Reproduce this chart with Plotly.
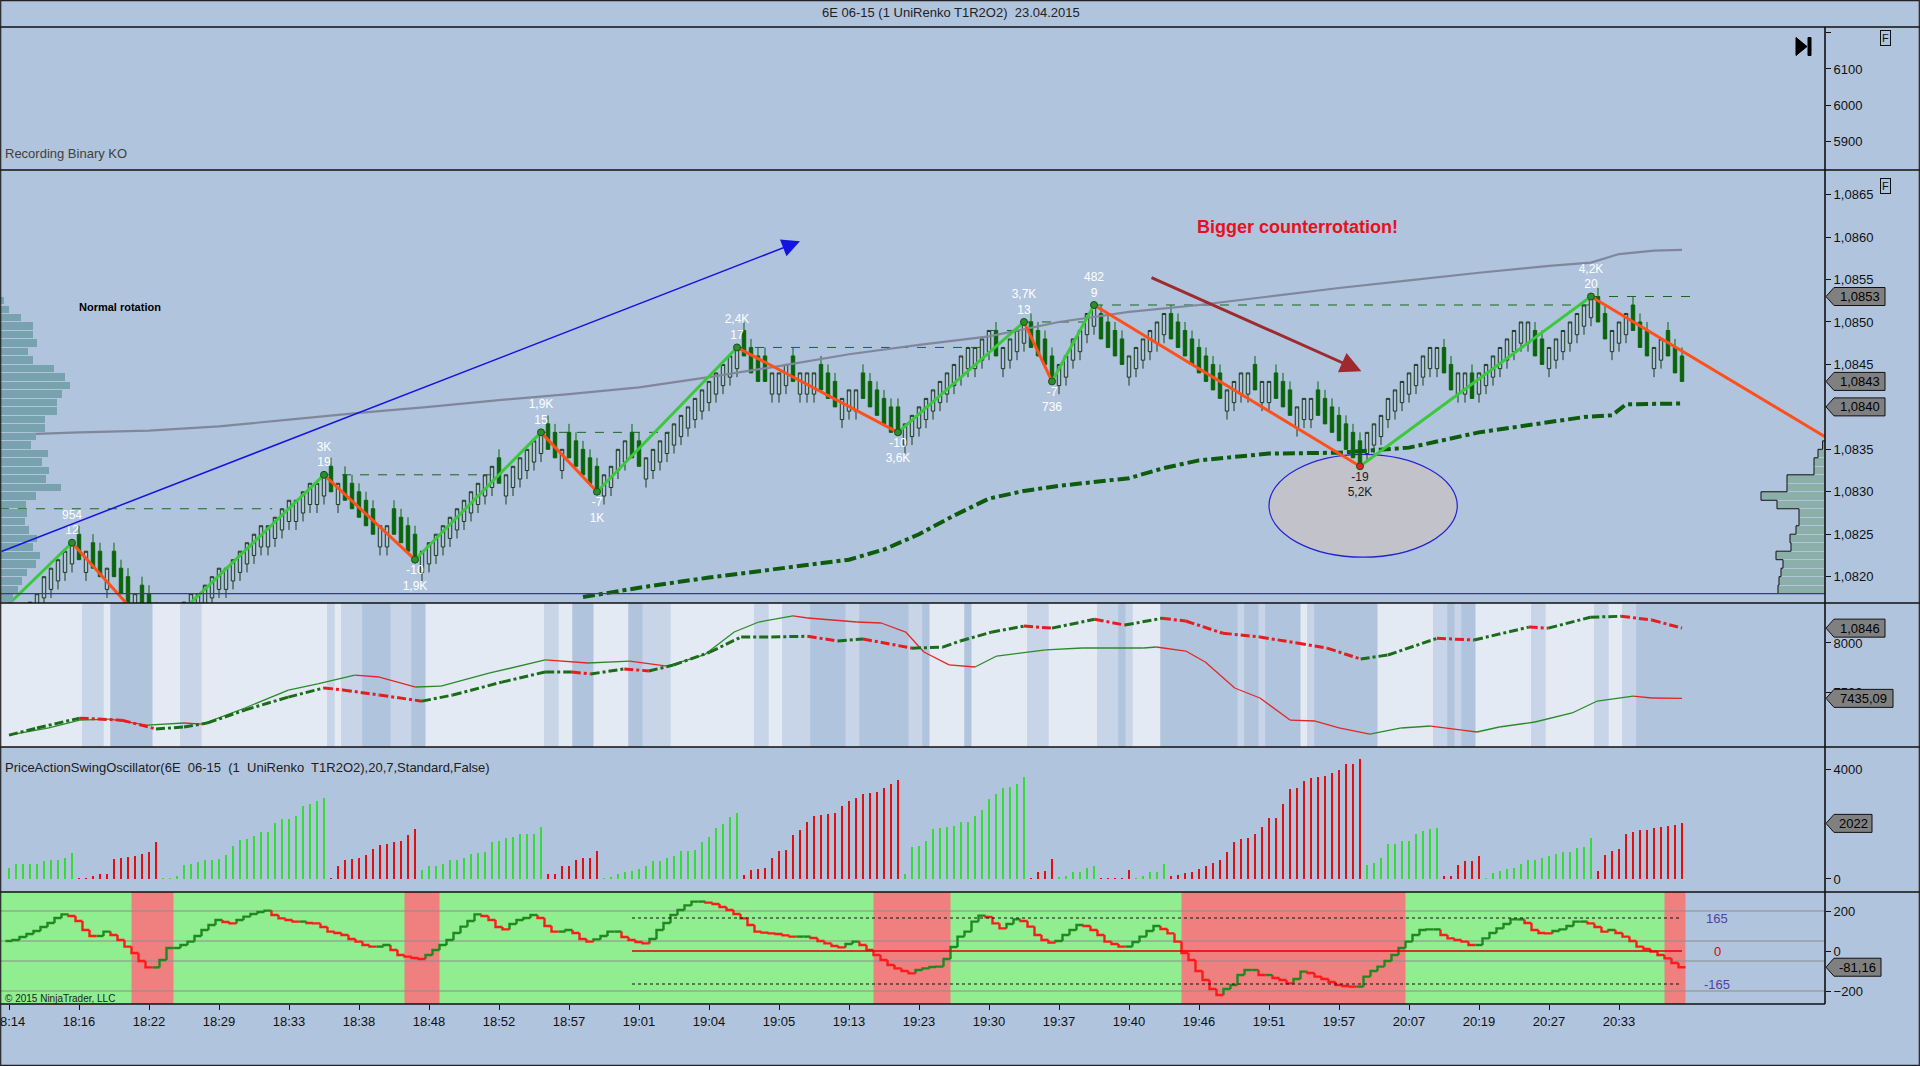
import plotly.graph_objects as go

FONT = "Arial, Liberation Sans, sans-serif"

# ======================= DATA =======================
CHART_TITLE = "6E 06-15 (1 UniRenko T1R2O2)  23.04.2015"
TOP_PANEL_TEXT = "Recording Binary KO"
OSC_TITLE = "PriceActionSwingOscillator(6E  06-15  (1  UniRenko  T1R2O2),20,7,Standard,False)"
COPYRIGHT = "© 2015 NinjaTrader, LLC"

TIME_TICK_BARS = [0, 10, 20, 30, 40, 50, 60, 70, 80, 90, 100, 110,
                  120, 130, 140, 150, 160, 170, 180, 190, 200, 210, 220, 230]
TIME_LABELS = ["18:14", "18:16", "18:22", "18:29", "18:33", "18:38", "18:48", "18:52",
               "18:57", "19:01", "19:04", "19:05", "19:13", "19:23", "19:30", "19:37",
               "19:40", "19:46", "19:51", "19:57", "20:07", "20:19", "20:27", "20:33"]

TICK_SIZE = 0.0001
PRICE_BASE = 1.0800
# renko close of every bar, in ticks above 1,0800
CLOSE_TICKS = [
    14, 15, 16, 17, 18, 20, 21, 22, 23, 24,
    22, 23, 21, 20, 21, 20, 18, 17, 18, 16, 15, 13,
    14, 15, 16, 17, 18, 18, 19, 20, 21, 21, 22, 23, 24, 25, 26, 26, 27, 28, 29, 29, 30, 31, 31, 32,
    30, 31, 29, 28, 27, 26, 25, 26, 26, 25, 24, 23, 22,
    23, 24, 25, 26, 27, 28, 29, 30, 31, 32, 33, 31, 32, 33, 34, 35, 36, 37,
    35, 34, 35, 34, 33, 32, 31, 30,
    32, 33, 35, 36, 34, 33, 34, 35, 36, 37, 38, 39, 40, 41, 42, 43, 44, 45, 46, 47,
    46, 44, 43, 43, 44, 44, 45, 43, 44, 44, 44, 42, 41, 40, 41, 42, 42, 41, 40, 39, 38, 37, 37,
    38, 39, 40, 41, 42, 43, 44, 45, 46, 47, 47, 48, 49, 46, 47, 48, 49, 50,
    47, 46, 45, 43,
    45, 46, 48, 49, 51, 52,
    48, 47, 46, 45, 46, 47, 48, 49, 50, 51, 48, 47, 46, 45, 44, 43, 42, 41, 42, 43, 44, 44, 42,
    43, 43, 41, 40, 39, 40, 41, 41, 39, 38, 37, 36, 35, 34, 33,
    37, 38, 39, 41, 42, 43, 44, 45, 46, 47, 47, 44, 42, 44, 44, 41, 44, 45, 46, 47, 48, 49, 50,
    50, 46, 45, 47, 48, 49, 50, 51, 52, 53,
    50, 48, 49, 50, 51, 49, 47, 46, 47, 48, 46, 44, 43]

UPPER_BAND_BARS = [0, 10, 20, 30, 40, 50, 60, 70, 80, 90, 100, 110, 120, 130, 140, 150,
                   160, 170, 180, 190, 200, 210, 220, 226, 230, 235, 239]
UPPER_BAND = [1.08367, 1.08370, 1.08372, 1.08377, 1.08385, 1.08393, 1.08400, 1.08408,
              1.08415, 1.08423, 1.08435, 1.08448, 1.08462, 1.08473, 1.08483, 1.08500,
              1.08512, 1.08520, 1.08530, 1.08540, 1.08549, 1.08558, 1.08566, 1.08570,
              1.08580, 1.08584, 1.08585]

LOWER_BAND_BARS = [82, 90, 100, 110, 120, 125, 130, 135, 140, 145, 150, 160, 165, 170,
                   180, 190, 200, 210, 220, 225, 229, 231, 239]
LOWER_BAND = [1.08176, 1.08187, 1.08199, 1.08210, 1.08220, 1.08232, 1.08250, 1.08272,
              1.08292, 1.08301, 1.08307, 1.08316, 1.08328, 1.08337, 1.08345, 1.08346,
              1.08352, 1.08370, 1.08382, 1.08388, 1.08390, 1.08403, 1.08404]

ZIGZAG_BARS = [-6, 9, 21, 45, 58, 76, 84, 104, 127, 145, 149, 155, 193, 226]
ZIGZAG_TICKS = [12, 24, 13, 32, 22, 37, 30, 47, 37, 50, 43, 52, 33, 53]
PROJECTION_BAR = 260
PROJECTION_PRICE = 1.08362

PIVOT_HIGH_BARS = [9, 45, 76, 104, 145, 155, 226]
PIVOT_HIGH_TICKS = [24, 32, 37, 47, 50, 52, 53]
PIVOT_HIGH_VOL = ["954", "3K", "1,9K", "2,4K", "3,7K", "482", "4,2K"]
PIVOT_HIGH_SIZE = ["12", "19", "15", "17", "13", "9", "20"]
PIVOT_LOW_BARS = [58, 84, 127, 149, 193]
PIVOT_LOW_TICKS = [22, 30, 37, 43, 33]
PIVOT_LOW_SIZE = ["-10", "-7", "-10", "-7", "-19"]
PIVOT_LOW_VOL = ["1,9K", "1K", "3,6K", "736", "5,2K"]

SWING_LINE_START = [-1.3, 45, 76, 104, 140, 145, 155, 226]
SWING_LINE_END = [37.6, 68.9, 94.4, 138.9, 145, 153.6, 226, 240.5]
SWING_LINE_PRICE = [1.0828, 1.0832, 1.0837, 1.0847, 1.0849, 1.0850, 1.0852, 1.0853]

LEFT_PROFILE_TICKS = [52.5, 51.5, 50.5, 49.5, 48.5, 47.5, 46.5, 45.5, 44.5, 43.5, 42.5, 41.5,
                      40.5, 39.5, 38.5, 37.5, 36.5, 35.5, 34.5, 33.5, 32.5, 31.5, 30.5, 29.5,
                      28.5, 27.5, 26.5, 25.5, 24.5, 23.5, 22.5, 21.5, 20.5, 19.5, 18.5, 17.5]
LEFT_PROFILE_VOL = [4, 9, 21, 33, 33, 37, 28, 33, 54, 65, 70, 62, 57, 57, 45, 45, 36, 31,
                    48, 42, 49, 46, 61, 36, 26, 27, 25, 29, 37, 33, 40, 36, 27, 22, 18, 13]
RIGHT_PROFILE_TICKS = [35.5, 34.5, 33.5, 32.5, 31.5, 30.5, 29.5, 28.5, 27.5, 26.5, 25.5,
                       24.5, 23.5, 22.5, 21.5, 20.5, 19.5, 18.5]
RIGHT_PROFILE_VOL = [2.4, 7, 11, 11, 38, 38, 64, 48, 26, 26, 29, 35, 34, 49, 42, 44, 46, 47]

# middle panel
FAST_LINE_BARS = [0, 4, 10.1, 16.1, 21, 25, 28.4, 33.7, 39.9, 45, 47.7, 52.9, 59, 63.4, 70.4,
                  76.6, 80.4, 83.1, 87.9, 91.4, 94.9, 100.1, 104.6, 108.9, 114.1, 118.4, 122,
                  129, 133.4, 135.9, 140.3, 145, 149, 155.1, 159.4, 164.7, 168.1, 173.4, 178.7,
                  184, 188.3, 193.1, 197, 204, 209.3, 217.1, 219.9, 225.9, 230.3, 234.7, 239]
FAST_LINE = [1.08145, 1.08166, 1.08195, 1.08189, 1.08163, 1.08169, 1.08181, 1.08219, 1.08257,
             1.08284, 1.08278, 1.08263, 1.08245, 1.08263, 1.08301, 1.08331, 1.08331, 1.08325,
             1.08340, 1.08334, 1.08351, 1.08389, 1.08434, 1.08434, 1.08436, 1.08422, 1.08428,
             1.08401, 1.08404, 1.08422, 1.08448, 1.08466, 1.08460, 1.08486, 1.08469, 1.08489,
             1.08481, 1.08445, 1.08434, 1.08416, 1.08401, 1.08369, 1.08381, 1.08430, 1.08425,
             1.08463, 1.08460, 1.08492, 1.08495, 1.08484, 1.08460]
SLOW_LINE_BARS = [0, 5.7, 10.1, 14.4, 19.7, 25, 27.6, 33.7, 39.9, 44.1, 49.4, 52.9, 58.1, 61.7,
                  68.7, 76.6, 82.7, 88.7, 94, 99.3, 103.6, 107.1, 112, 114.1, 121.1, 124.6,
                  128.1, 130.7, 134.3, 138, 141.1, 148.1, 153.3, 162.1, 163.9, 168.1, 170.9,
                  175.1, 178.7, 183, 186.6, 190, 194.4, 198.9, 203.1, 207.6, 209.7, 212.9, 218,
                  223.3, 226.9, 232, 234.7, 239]
SLOW_LINE = [7061, 7133, 7214, 7224, 7163, 7184, 7173, 7337, 7520, 7582, 7673, 7653, 7551, 7561,
             7694, 7827, 7796, 7816, 7765, 7878, 8112, 8214, 8276, 8255, 8214, 8204, 8112, 7908,
             7776, 7755, 7867, 7929, 7949, 7949, 7959, 7918, 7806, 7541, 7439, 7214, 7204, 7133,
             7071, 7133, 7153, 7112, 7092, 7143, 7194, 7286, 7408, 7459, 7439, 7435.09]
# background shading per bar: (level, number of bars) 0 light, 1 medium, 2 dark
BAND_RUNS = [(0, 11), (1, 3), (0, 1), (2, 6), (0, 4), (1, 3), (0, 18), (1, 1), (0, 1), (1, 3),
             (2, 4), (1, 3), (2, 2), (0, 17), (1, 2), (0, 2), (2, 3), (0, 5), (2, 2), (1, 4),
             (0, 12), (1, 2), (0, 2), (1, 4), (2, 5), (1, 2), (2, 7), (1, 2), (2, 1), (0, 5),
             (2, 1), (0, 8), (1, 3), (0, 7), (1, 3), (2, 1), (1, 1), (0, 4), (2, 11), (1, 1),
             (2, 2), (1, 1), (2, 5), (0, 1), (1, 1), (2, 9), (0, 8), (1, 2), (2, 1), (1, 1),
             (2, 2), (0, 8), (1, 2), (0, 7), (1, 2), (0, 2), (1, 2), (2, 7)]

# swing volume histogram
SWING_VOLUME = [
    412, 533, 533, 533, 533, 654, 691, 691, 751, 933,
    24, 24, 109, 170, 194, 727, 776, 812, 848, 897, 970, 1357,
    24, 24, 109, 509, 558, 630, 679, 691, 727, 873, 1212, 1406, 1442, 1575, 1697, 1721, 2024,
    2182, 2182, 2303, 2666, 2727, 2848, 2957,
    24, 485, 691, 715, 751, 873, 1091, 1236, 1260, 1357, 1382, 1600, 1818,
    327, 485, 485, 533, 691, 691, 751, 921, 933, 994, 1333, 1394, 1479, 1539, 1624, 1624, 1624, 1879,
    170, 194, 485, 485, 691, 776, 776, 1018,
    24, 48, 194, 267, 291, 364, 485, 667, 667, 751, 848, 1018, 1018, 1042, 1357, 1539, 1842,
    1988, 2266, 2388,
    145, 327, 351, 388, 751, 1018, 1054, 1600, 1782, 2060, 2303, 2327, 2363, 2388, 2666, 2848,
    2957, 3090, 3115, 3151, 3297, 3442, 3600,
    170, 1176, 1212, 1382, 1818, 1842, 1903, 1939, 2085, 2085, 2303, 2509, 2909, 3078, 3297,
    3357, 3442, 3721,
    24, 267, 291, 727,
    48, 121, 242, 267, 412, 485,
    10, 10, 10, 10, 327,
    24, 121, 242, 267, 533,
    121, 145, 206, 242, 364, 485, 570, 691, 994, 1357, 1454, 1503, 1624, 1879, 2206, 2206, 2715,
    3272, 3297, 3563, 3660, 3721, 3745, 3842, 3963, 4169, 4169, 4363,
    509, 570, 751, 1260, 1260, 1382, 1382, 1624, 1745, 1818, 1866,
    121, 121, 509, 654, 654, 836,
    24, 206, 291, 364, 412, 533, 691, 691, 751, 848, 897, 994, 994, 1139, 1176, 1503,
    291, 873, 1018, 1091, 1624, 1721, 1782, 1782, 1842, 1879, 1927, 1963, 2022]
SWING_RUNS = [("up", 10), ("dn", 12), ("up", 24), ("dn", 13), ("up", 18), ("dn", 8), ("up", 20),
              ("dn", 23), ("up", 18), ("dn", 4), ("up", 6), ("dn", 5), ("up", 5), ("dn", 28),
              ("up", 11), ("dn", 6), ("up", 16), ("dn", 13)]

# oscillator
OSCILLATOR = [
    50, 55, 70, 85, 100, 120, 140, 165, 183, 175,
    150, 105, 75, 75, 97, 80, 55, 22, -10, -50,
    -82, -82, -45, 15, 15, 30, 47, 75, 105, 130,
    155, 145, 138, 155, 172, 185, 195, 202, 180, 163,
    155, 147, 147, 140, 138, 120, 97, 90, 80, 60,
    47, 30, 22, 22, 30, 5, -20, -28, -35, -40,
    -20, 5, 30, 55, 90, 122, 150, 183, 175, 155,
    120, 108, 135, 155, 165, 180, 165, 125, 97, 97,
    105, 90, 60, 47, 58, 75, 97, 97, 70, 55,
    45, 38, 60, 105, 140, 180, 205, 228, 247, 247,
    242, 235, 220, 205, 185, 163, 130, 97, 92, 88,
    85, 78, 72, 72, 72, 65, 50, 38, 25, 18,
    35, 47, 30, 5, -20, -45, -70, -87, -100, -112,
    -95, -87, -80, -78, -40, 20, 72, 97, 147, 177,
    170, 138, 113, 135, 158, 150, 122, 80, 55, 42,
    50, 80, 105, 130, 125, 105, 80, 47, 35, 22,
    22, 45, 72, 100, 125, 110, 88, 47, -10, -45,
    -100, -145, -190, -220, -190, -170, -120, -95, -95, -120,
    -120, -135, -145, -162, -140, -103, -110, -128, -140, -155,
    -170, -175, -178, -178, -128, -100, -78, -50, -20, 15,
    47, 80, 105, 108, 108, 80, 63, 55, 47, 30,
    30, 63, 90, 113, 135, 158, 158, 140, 105, 90,
    88, 100, 108, 125, 147, 147, 138, 120, 97, 105,
    90, 72, 50, 22, 10, -3, -20, -37, -60, -81.16]
OSC_RED_ZONES = [(18, 23), (57, 61), (124, 134), (168, 199), (237, 239)]
OSC_LEVELS = [165, 0, -165]
OSC_LEVEL_START_BAR = 89

# hand drawn objects
BLUE_ARROW = dict(bar0=-1.29, price0=1.08229, bar1=113, price1=1.08595)
RED_ARROW = dict(bar0=163, price0=1.08553, bar1=193.2, price1=1.08442)
ELLIPSE = dict(bar0=180, bar1=206.9, price0=1.08223, price1=1.08344)
NOTE_BIG = dict(text="Bigger counterrotation!", bar=184, price=1.08612)
NOTE_NORMAL = dict(text="Normal rotation", bar=15.9, price=1.08518)
MARKER_LINE_PRICE = 1.0818

N = len(CLOSE_TICKS)
assert N == 240 and len(SWING_VOLUME) == 240 and len(OSCILLATOR) == 240

# ======================= LAYOUT GEOMETRY =======================
W, H = 1920, 1066
M_L, M_R, M_T, M_B = 0, 95, 27, 62
PLOT_W = W - M_L - M_R
PLOT_H = H - M_T - M_B
PLOT_BOTTOM = H - M_B


def dom(top_px, bottom_px):
    return [(PLOT_BOTTOM - bottom_px) / PLOT_H, (PLOT_BOTTOM - top_px) / PLOT_H]


def py(px):
    return (PLOT_BOTTOM - px) / PLOT_H


def px_x(px):
    return px / PLOT_W


D_P1 = dom(27, 170)
D_P2 = dom(170, 603)
D_P3 = dom(603, 747)
D_P4 = dom(747, 892)
D_P5 = dom(892, 1004)
X_RANGE = [-9 / 7, 1816 / 7]

BG = "#B0C4DE"

fig = go.Figure()

# ---------- main panel (y5) ----------
opens, highs, lows, closes = [], [], [], []
direction = 1
prev = None
for t in CLOSE_TICKS:
    if prev is not None and t != prev:
        direction = 1 if t > prev else -1
    c = PRICE_BASE + t * TICK_SIZE
    if direction > 0:
        o = c - 2.5 * TICK_SIZE
        h, l = c, o - TICK_SIZE
    else:
        o = c + 3 * TICK_SIZE
        h, l = o + TICK_SIZE, c
    opens.append(o); highs.append(h); lows.append(l); closes.append(c)
    prev = t
bars = list(range(N))

# left volume profile
fig.add_trace(go.Bar(orientation="h", x=LEFT_PROFILE_VOL,
                     y=[PRICE_BASE + t * TICK_SIZE for t in LEFT_PROFILE_TICKS],
                     width=TICK_SIZE * 0.88, marker=dict(color="#78A2AD", line=dict(width=0)),
                     xaxis="x2", yaxis="y5", hoverinfo="skip"))
# right volume profile
fig.add_trace(go.Bar(orientation="h", x=RIGHT_PROFILE_VOL,
                     y=[PRICE_BASE + t * TICK_SIZE for t in RIGHT_PROFILE_TICKS],
                     width=TICK_SIZE * 0.9, marker=dict(color="#8DAFA9", line=dict(width=0)),
                     xaxis="x3", yaxis="y5", hoverinfo="skip"))
ox, oy = [], []
for t, v in zip(RIGHT_PROFILE_TICKS, RIGHT_PROFILE_VOL):
    ox += [v, v]
    oy += [PRICE_BASE + (t + 0.5) * TICK_SIZE, PRICE_BASE + (t - 0.5) * TICK_SIZE]
fig.add_trace(go.Scatter(x=[0] + ox, y=[oy[0]] + oy, mode="lines",
                         line=dict(color="#111", width=1), xaxis="x3", yaxis="y5",
                         hoverinfo="skip"))

# swing-high horizontal dashed lines
sx, sy = [], []
for a, b, p in zip(SWING_LINE_START, SWING_LINE_END, SWING_LINE_PRICE):
    sx += [a, b, None]; sy += [p, p, None]
fig.add_trace(go.Scatter(x=sx, y=sy, mode="lines", line=dict(color="#1c661c", width=1, dash="dash"),
                         xaxis="x", yaxis="y5", hoverinfo="skip"))

# upper grey band
fig.add_trace(go.Scatter(x=UPPER_BAND_BARS, y=UPPER_BAND, mode="lines",
                         line=dict(color="#80879A", width=2.2), xaxis="x", yaxis="y5"))
# lower dash-dot band
fig.add_trace(go.Scatter(x=LOWER_BAND_BARS, y=LOWER_BAND, mode="lines",
                         line=dict(color="#0D5C0D", width=4, dash="dashdot"),
                         xaxis="x", yaxis="y5"))

# candles
fig.add_trace(go.Candlestick(x=bars, open=opens, high=highs, low=lows, close=closes,
                             increasing=dict(line=dict(color="#1B3A1B", width=1),
                                             fillcolor="rgba(0,0,0,0)"),
                             decreasing=dict(line=dict(color="#0A640A", width=1),
                                             fillcolor="#0A640A"),
                             whiskerwidth=0, xaxis="x", yaxis="y5", hoverinfo="skip"))

# zigzag
zx_up, zy_up, zx_dn, zy_dn = [], [], [], []
zz_prices = [PRICE_BASE + t * TICK_SIZE for t in ZIGZAG_TICKS]
zz_bars = ZIGZAG_BARS + [PROJECTION_BAR]
zz_prices = zz_prices + [PROJECTION_PRICE]
for i in range(1, len(zz_bars)):
    if zz_prices[i] > zz_prices[i - 1]:
        zx_up += [zz_bars[i - 1], zz_bars[i], None]; zy_up += [zz_prices[i - 1], zz_prices[i], None]
    else:
        zx_dn += [zz_bars[i - 1], zz_bars[i], None]; zy_dn += [zz_prices[i - 1], zz_prices[i], None]
fig.add_trace(go.Scatter(x=zx_up, y=zy_up, mode="lines", line=dict(color="#3CC83C", width=3),
                         xaxis="x", yaxis="y5"))
fig.add_trace(go.Scatter(x=zx_dn, y=zy_dn, mode="lines", line=dict(color="#FF4F1A", width=3),
                         xaxis="x", yaxis="y5"))

# pivots + labels
fig.add_trace(go.Scatter(
    x=PIVOT_HIGH_BARS, y=[PRICE_BASE + t * TICK_SIZE for t in PIVOT_HIGH_TICKS],
    mode="markers+text", marker=dict(size=7, color="#2E8B2E", line=dict(color="#145214", width=1)),
    text=[f"{v}<br>{s}" for v, s in zip(PIVOT_HIGH_VOL, PIVOT_HIGH_SIZE)],
    textposition="top center", textfont=dict(color="white", size=12, family=FONT),
    xaxis="x", yaxis="y5"))
fig.add_trace(go.Scatter(
    x=PIVOT_LOW_BARS, y=[PRICE_BASE + t * TICK_SIZE for t in PIVOT_LOW_TICKS],
    mode="markers+text",
    marker=dict(size=7, color=["#2E8B2E"] * 4 + ["#E52020"], line=dict(color="#145214", width=1)),
    text=[f"{s}<br>{v}" for s, v in zip(PIVOT_LOW_SIZE, PIVOT_LOW_VOL)],
    textposition="bottom center",
    textfont=dict(color=["white"] * 4 + ["#1a1a1a"], size=12, family=FONT),
    xaxis="x", yaxis="y5"))

# ---------- panel 3 ----------
def split_dir(xs, ys):
    gx, gy, rx, ry = [], [], [], []
    for i in range(1, len(xs)):
        if ys[i] >= ys[i - 1]:
            gx += [xs[i - 1], xs[i], None]; gy += [ys[i - 1], ys[i], None]
        else:
            rx += [xs[i - 1], xs[i], None]; ry += [ys[i - 1], ys[i], None]
    return gx, gy, rx, ry


gx, gy, rx, ry = split_dir(SLOW_LINE_BARS, SLOW_LINE)
fig.add_trace(go.Scatter(x=gx, y=gy, mode="lines", line=dict(color="#2A8A2A", width=1.3),
                         xaxis="x", yaxis="y3"))
fig.add_trace(go.Scatter(x=rx, y=ry, mode="lines", line=dict(color="#E02828", width=1.3),
                         xaxis="x", yaxis="y3"))
gx, gy, rx, ry = split_dir(FAST_LINE_BARS, FAST_LINE)
fig.add_trace(go.Scatter(x=gx, y=gy, mode="lines", line=dict(color="#1B6B1B", width=3, dash="dashdot"),
                         xaxis="x", yaxis="y4"))
fig.add_trace(go.Scatter(x=rx, y=ry, mode="lines", line=dict(color="#E41E1E", width=3, dash="dashdot"),
                         xaxis="x", yaxis="y4"))

# ---------- panel 4: histogram ----------
hist_colors = []
for d, n in SWING_RUNS:
    hist_colors += [("#33DD33" if d == "up" else "#E01010")] * n
fig.add_trace(go.Bar(x=bars, y=SWING_VOLUME, width=0.32, marker=dict(color=hist_colors, line=dict(width=0)),
                     xaxis="x", yaxis="y2"))

# ---------- panel 5: oscillator ----------
ogx, ogy, orx, ory = [-0.5, 0.5, None], [OSCILLATOR[0], OSCILLATOR[0], None], [], []
for i in range(1, N):
    seg_x = [i - 0.5, i - 0.5, i + 0.5, None]
    seg_y = [OSCILLATOR[i - 1], OSCILLATOR[i], OSCILLATOR[i], None]
    if OSCILLATOR[i] >= OSCILLATOR[i - 1]:
        ogx += seg_x; ogy += seg_y
    else:
        orx += seg_x; ory += seg_y
fig.add_trace(go.Scatter(x=ogx, y=ogy, mode="lines", line=dict(color="#1E8A1E", width=2.4),
                         xaxis="x", yaxis="y"))
fig.add_trace(go.Scatter(x=orx, y=ory, mode="lines", line=dict(color="#FF1A1A", width=2.4),
                         xaxis="x", yaxis="y"))
for lv in OSC_LEVELS:
    fig.add_trace(go.Scatter(x=[OSC_LEVEL_START_BAR, N - 1], y=[lv, lv], mode="lines",
                             line=dict(color="#E00000" if lv == 0 else "#111",
                                       width=1.3 if lv == 0 else 1,
                                       dash="solid" if lv == 0 else "dot"),
                             xaxis="x", yaxis="y"))

# ======================= SHAPES =======================
shapes = []
# panel 3 shading
band_colors = {0: "#E4EAF3", 1: "#C8D5E8", 2: BG}
start = 0
for lvl, n in BAND_RUNS:
    x0 = start - 0.5 if start > 0 else X_RANGE[0]
    shapes.append(dict(type="rect", xref="x", yref="paper", x0=x0, x1=start + n - 0.5,
                       y0=D_P3[0], y1=D_P3[1], fillcolor=band_colors[lvl], line=dict(width=0),
                       layer="below"))
    start += n
# oscillator background
shapes.append(dict(type="rect", xref="x", yref="paper", x0=X_RANGE[0], x1=N - 0.5,
                   y0=D_P5[0], y1=D_P5[1], fillcolor="#90EE90", line=dict(width=0), layer="below"))
for a, b in OSC_RED_ZONES:
    shapes.append(dict(type="rect", xref="x", yref="paper", x0=a - 0.5, x1=b + 0.5,
                       y0=D_P5[0], y1=D_P5[1], fillcolor="#F08080", line=dict(width=0), layer="below"))
for lv in [200, 50, -50, -200]:
    shapes.append(dict(type="line", xref="paper", yref="y", x0=0, x1=1, y0=lv, y1=lv,
                       line=dict(color="#8C8C8C", width=1), layer="below"))
# ellipse
shapes.append(dict(type="circle", xref="x", yref="y5", x0=ELLIPSE["bar0"], x1=ELLIPSE["bar1"],
                   y0=ELLIPSE["price0"], y1=ELLIPSE["price1"], fillcolor="#C2C2CA",
                   line=dict(color="#2323CF", width=1.2), layer="below"))
# bottom marker line of main panel
shapes.append(dict(type="line", xref="paper", yref="y5", x0=0, x1=1, y0=MARKER_LINE_PRICE,
                   y1=MARKER_LINE_PRICE, line=dict(color="#3434B0", width=1.2)))
# panel separators
full_w = W / PLOT_W
for ypx in [27, 170, 603, 747, 892]:
    shapes.append(dict(type="line", xref="paper", yref="paper", x0=0, x1=full_w, y0=py(ypx),
                       y1=py(ypx), line=dict(color="#111", width=1.6)))
shapes.append(dict(type="line", xref="paper", yref="paper", x0=0, x1=1, y0=py(1004), y1=py(1004),
                   line=dict(color="#111", width=1.6)))
shapes.append(dict(type="line", xref="paper", yref="paper", x0=1, x1=1, y0=py(1004), y1=py(27),
                   line=dict(color="#111", width=1.6)))
shapes.append(dict(type="rect", xref="paper", yref="paper", x0=px_x(0.7), x1=px_x(1919.3),
                   y0=py(1065.3), y1=py(0.7), line=dict(color="#222", width=1.2)))
# play icon
shapes.append(dict(type="path", xref="paper", yref="paper", xsizemode="pixel", ysizemode="pixel",
                   xanchor=px_x(1804), yanchor=py(46.5),
                   path="M -8,9 L 3,0 L -8,-9 Z M 4,9 L 7,9 L 7,-9 L 4,-9 Z",
                   fillcolor="#000", line=dict(color="#000", width=1)))


def add_tag(yref, value, text, width):
    shapes.append(dict(type="path", xref="paper", yref=yref, xsizemode="pixel", ysizemode="pixel",
                       xanchor=1, yanchor=value,
                       path=f"M 1,0 L 9,9 L {width},9 L {width},-9 L 9,-9 Z",
                       fillcolor="#808080", line=dict(color="#111", width=1)))
    annotations.append(dict(xref="paper", yref=yref, x=1, y=value, text=text, showarrow=False,
                            xanchor="center", xshift=(9 + width) / 2, yanchor="middle",
                            font=dict(size=13, color="#000", family=FONT)))


# ======================= ANNOTATIONS =======================
annotations = []
annotations.append(dict(xref="paper", yref="paper", x=px_x(951), y=py(13), text=CHART_TITLE,
                        showarrow=False, font=dict(size=13, color="#222", family=FONT),
                        xanchor="center", yanchor="middle"))
annotations.append(dict(xref="paper", yref="paper", x=px_x(3), y=py(153), text=TOP_PANEL_TEXT,
                        showarrow=False, font=dict(size=13, color="#404040", family=FONT),
                        xanchor="left", yanchor="middle"))
annotations.append(dict(xref="paper", yref="paper", x=px_x(3), y=py(767), text=OSC_TITLE,
                        showarrow=False, font=dict(size=13, color="#202020", family=FONT),
                        xanchor="left", yanchor="middle"))
annotations.append(dict(xref="paper", yref="paper", x=px_x(3), y=py(998), text=COPYRIGHT,
                        showarrow=False, font=dict(size=10, color="#202020", family=FONT),
                        xanchor="left", yanchor="middle"))
for ypx in [38, 186]:
    annotations.append(dict(xref="paper", yref="paper", x=px_x(1886), y=py(ypx), text="F",
                            showarrow=False, font=dict(size=11, color="#111", family=FONT),
                            bordercolor="#111", borderwidth=1, borderpad=1,
                            xanchor="center", yanchor="middle"))
annotations.append(dict(xref="x", yref="y5", x=NOTE_BIG["bar"], y=NOTE_BIG["price"],
                        text="<b>" + NOTE_BIG["text"] + "</b>", showarrow=False,
                        font=dict(size=18, color="#E8101A", family=FONT)))
annotations.append(dict(xref="x", yref="y5", x=NOTE_NORMAL["bar"], y=NOTE_NORMAL["price"],
                        text="<b>" + NOTE_NORMAL["text"] + "</b>", showarrow=False,
                        font=dict(size=11, color="#000", family=FONT)))
annotations.append(dict(xref="x", yref="y5", axref="x", ayref="y5",
                        x=BLUE_ARROW["bar1"], y=BLUE_ARROW["price1"],
                        ax=BLUE_ARROW["bar0"], ay=BLUE_ARROW["price0"], text="",
                        showarrow=True, arrowhead=2, arrowsize=2.4, arrowwidth=1.5,
                        arrowcolor="#1414E0"))
annotations.append(dict(xref="x", yref="y5", axref="x", ayref="y5",
                        x=RED_ARROW["bar1"], y=RED_ARROW["price1"],
                        ax=RED_ARROW["bar0"], ay=RED_ARROW["price0"], text="",
                        showarrow=True, arrowhead=2, arrowsize=1.4, arrowwidth=3,
                        arrowcolor="#9E2A2E"))
for lv in OSC_LEVELS:
    annotations.append(dict(xref="x", yref="y", x=244, y=lv, text=str(lv), showarrow=False,
                            font=dict(size=13, color="#E00000" if lv == 0 else "#5040A8", family=FONT)))

add_tag("y5", 1.0853, "1,0853", 60)
add_tag("y5", 1.0843, "1,0843", 60)
add_tag("y5", 1.0840, "1,0840", 60)
add_tag("y4", FAST_LINE[-1], "1,0846", 60)
add_tag("y3", SLOW_LINE[-1], "7435,09", 68)
add_tag("y2", SWING_VOLUME[-1], "2022", 47)
add_tag("y", OSCILLATOR[-1], "-81,16", 56)

# ======================= AXES =======================
ax_common = dict(side="right", anchor="x", ticks="outside", ticklen=5, tickcolor="#111",
                 showgrid=False, zeroline=False, showline=False, automargin=False,
                 tickfont=dict(size=13, color="#111", family=FONT))
price_ticks = [1.0820, 1.0825, 1.0830, 1.0835, 1.0840, 1.0845, 1.0850, 1.0855, 1.0860, 1.0865]

fig.update_layout(
    width=W, height=H,
    margin=dict(l=M_L, r=M_R, t=M_T, b=M_B, autoexpand=False),
    paper_bgcolor=BG, plot_bgcolor=BG,
    showlegend=False, hovermode=False,
    font=dict(family=FONT, color="#111"),
    xaxis=dict(domain=[0, 1], range=X_RANGE, anchor="y", tickvals=TIME_TICK_BARS,
               ticktext=TIME_LABELS, ticks="outside", ticklen=5, tickcolor="#111",
               showgrid=False, zeroline=False, showline=False, ticklabeloverflow="allow",
               automargin=False,
               tickfont=dict(size=13, color="#111", family=FONT),
               rangeslider=dict(visible=False)),
    xaxis2=dict(overlaying="x", anchor="y5", range=[0, PLOT_W], visible=False),
    xaxis3=dict(overlaying="x", anchor="y5", range=[PLOT_W, 0], visible=False),
    yaxis=dict(domain=D_P5, range=[-265, 295], tickvals=[-200, 0, 200], **ax_common),
    yaxis2=dict(domain=D_P4, range=[-473, 4800], tickvals=[0, 4000], **ax_common),
    yaxis3=dict(domain=D_P3, range=[6939, 8408], tickvals=[7500, 8000], **ax_common),
    yaxis4=dict(overlaying="y3", anchor="x", range=[1.0811, 1.08534], visible=False),
    yaxis5=dict(domain=D_P2, range=[1.08169, 1.08679], tickvals=price_ticks,
                ticktext=[f"{v:.4f}".replace(".", ",") for v in price_ticks], **ax_common),
    yaxis6=dict(domain=D_P1, range=[5823, 6215], tickvals=[5900, 6000, 6100, 6200],
                ticktext=["5900", "6000", "6100", ""], **ax_common),
    shapes=shapes, annotations=annotations,
    bargap=0,
)
# invisible trace so the top panel axis renders
fig.add_trace(go.Scatter(x=[0], y=[6000], mode="markers", marker=dict(opacity=0),
                         xaxis="x", yaxis="y6", hoverinfo="skip"))

fig.write_html("out.html", config={"displayModeBar": False},
               post_script="document.body.style.margin='0px';document.body.style.overflow='hidden';")
